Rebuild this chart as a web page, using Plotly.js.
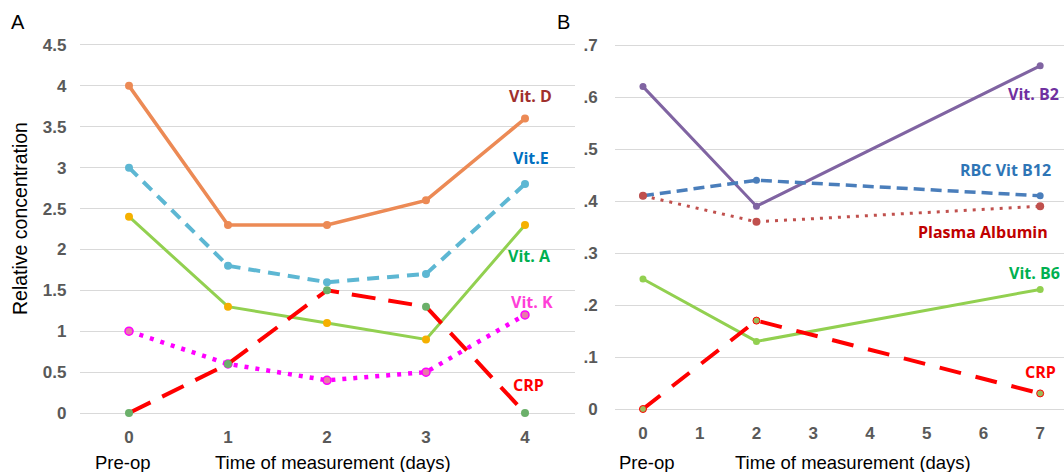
<!DOCTYPE html>
<html>
<head>
<meta charset="utf-8">
<script src="https://cdn.plot.ly/plotly-3.0.1.min.js"></script>
<style>html,body{margin:0;padding:0;background:#fff;}#chart{width:1064px;height:472px;}</style>
</head>
<body>
<div id="chart"></div>
<script>
// Panel A data
const daysA = [0, 1, 2, 3, 4];
const vitD = [4, 2.3, 2.3, 2.6, 3.6];
const vitE = [3, 1.8, 1.6, 1.7, 2.8];
const vitA = [2.4, 1.3, 1.1, 0.9, 2.3];
const vitK = [1, 0.6, 0.4, 0.5, 1.2];
const crpA = [0, 0.6, 1.5, 1.3, 0];
const yTicksA = [0, 0.5, 1, 1.5, 2, 2.5, 3, 3.5, 4, 4.5];
const yTickTextA = ['0', '0.5', '1', '1.5', '2', '2.5', '3', '3.5', '4', '4.5'];

// Panel B data
const daysB = [0, 2, 7];
const vitB2 = [0.62, 0.39, 0.66];
const rbcB12 = [0.41, 0.44, 0.41];
const albumin = [0.41, 0.36, 0.39];
const vitB6 = [0.25, 0.13, 0.23];
const crpB = [0, 0.17, 0.03];
const xTicksB = [0, 1, 2, 3, 4, 5, 6, 7];
const yTicksB = [0, 0.1, 0.2, 0.3, 0.4, 0.5, 0.6, 0.7];
const yTickTextB = ['0', '.1', '.2', '.3', '.4', '.5', '.6', '.7'];

const W = 1064, H = 472;
const px = x => x / W;
const py = y => 1 - y / H;

function tr(x, y, axes, color, width, dash, mcolor, msize, mline) {
  return {
    x: x, y: y, xaxis: axes[0], yaxis: axes[1], type: 'scatter', mode: 'lines+markers',
    line: {color: color, width: width, dash: dash},
    marker: {color: mcolor, size: msize, line: mline || {width: 0}},
    cliponaxis: false, showlegend: false, hoverinfo: 'skip'
  };
}

const A = ['x', 'y'], B = ['x2', 'y2'];
const data = [
  tr(daysA, vitD, A, '#EC8A55', 3.5, 'solid', '#EC8A55', 8),
  tr(daysA, vitE, A, '#5DB7D3', 4, '12px,8px', '#5DB7D3', 8),
  tr(daysA, vitA, A, '#92D050', 3, 'solid', '#F5B000', 8),
  tr(daysA, vitK, A, '#FF00FF', 4.5, '4px,7px', '#E87BA8', 8, {color: '#FF00FF', width: 1.5}),
  tr(daysA, crpA, A, '#FF0000', 4, '24px,13px', '#6BB06A', 8),
  tr(daysB, vitB2, B, '#8064A2', 3, 'solid', '#8064A2', 7),
  tr(daysB, rbcB12, B, '#4A7EBB', 3.5, '11px,6px', '#4A7EBB', 7),
  tr(daysB, albumin, B, '#C0504D', 3, '3px,6px', '#C0504D', 8),
  tr(daysB, vitB6, B, '#92D050', 3, 'solid', '#92D050', 7),
  tr(daysB, crpB, B, '#FF0000', 4, '22px,15px', '#9BBB59', 7, {color: '#FF0000', width: 1})
];

const tickFont = {family: 'Liberation Sans, Arial, sans-serif', size: 17, color: '#595959', weight: 'bold'};
const labFont = (c) => ({family: 'Open Sans, sans-serif', size: 16, color: c, weight: 'bold'});
const blackFont = (s) => ({family: 'Liberation Sans, Arial, sans-serif', size: s, color: '#000'});

function ann(x, y, text, font, extra) {
  return Object.assign({xref: 'paper', yref: 'paper', x: px(x), y: py(y), text: text, showarrow: false,
    xanchor: 'center', yanchor: 'middle', font: font}, extra || {});
}

const layout = {
  width: W, height: H,
  margin: {l: 0, r: 0, t: 0, b: 0},
  paper_bgcolor: '#fff', plot_bgcolor: '#fff',
  xaxis: {domain: [px(79.5), px(574.5)], range: [-0.5, 4.5], tickvals: daysA, showgrid: false, zeroline: false,
    showline: false, ticks: '', tickfont: tickFont, ticklabelstandoff: 4, fixedrange: true},
  yaxis: {domain: [py(421.2), py(36.8)], range: [-0.1, 4.6], tickvals: yTicksA, ticktext: yTickTextA,
    showgrid: true, gridcolor: '#D9D9D9', gridwidth: 1, zeroline: false, showline: false, ticks: '',
    tickfont: tickFont, ticklabelstandoff: 12, fixedrange: true},
  xaxis2: {domain: [px(614.6), 1], range: [-0.5, 7.42], tickvals: xTicksB, showgrid: false, zeroline: false,
    showline: false, ticks: '', tickfont: tickFont, ticklabelstandoff: 4, anchor: 'y2', fixedrange: true},
  yaxis2: {domain: [py(416.8), py(29.4)], range: [-0.015, 0.73], tickvals: yTicksB, ticktext: yTickTextB,
    showgrid: true, gridcolor: '#D9D9D9', gridwidth: 1, zeroline: false, showline: false, ticks: '',
    tickfont: tickFont, ticklabelstandoff: 16, anchor: 'x2', fixedrange: true},
  annotations: [
    ann(18, 22, 'A', blackFont(20)),
    ann(563, 22, 'B', blackFont(20)),
    ann(20, 219, 'Relative concentration', blackFont(19.5), {textangle: -90}),
    ann(123, 462, 'Pre-op', blackFont(18.5)),
    ann(333, 462, 'Time of measurement (days)', blackFont(18.5)),
    ann(647, 462, 'Pre-op', blackFont(18.5)),
    ann(853, 462, 'Time of measurement (days)', blackFont(18.5)),
    ann(530, 96, 'Vit. D', labFont('#A0302D')),
    ann(531, 158, 'Vit.E', labFont('#0070C0')),
    ann(529, 256, 'Vit. A', labFont('#00B050')),
    ann(532, 302, 'Vit. K', labFont('#FF3FD8')),
    ann(528, 385, 'CRP', labFont('#FF0000')),
    ann(1061, 94, 'Vit. B2', labFont('#7030A0'), {xanchor: 'right'}),
    ann(1005, 170, 'RBC Vit B12', labFont('#2E75B6')),
    ann(983, 232, 'Plasma Albumin', labFont('#C00000')),
    ann(1062, 273, 'Vit. B6', labFont('#00B050'), {xanchor: 'right'}),
    ann(1040, 372, 'CRP', labFont('#FF0000'))
  ]
};

Plotly.newPlot('chart', data, layout, {staticPlot: true, displayModeBar: false});
</script>
</body>
</html>
